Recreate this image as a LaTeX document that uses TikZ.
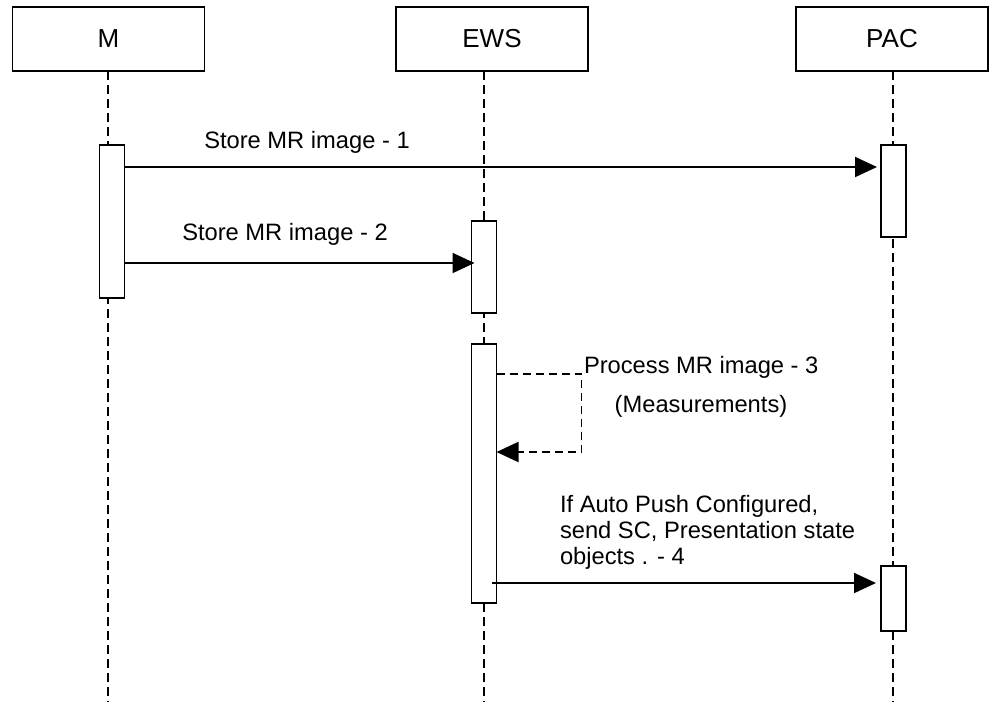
\documentclass[tikz,border=0pt]{standalone}
\usepackage{fontspec}
\setmainfont{Liberation Sans}
\usetikzlibrary{arrows.meta,calc}
\begin{document}
\begin{tikzpicture}[x=1pt,y=-1pt,
  font=\fontsize{23.7}{26}\selectfont,
  head/.style={draw, line width=1.9pt, minimum width=192pt, minimum height=64pt, inner sep=0pt, outer sep=0pt,
    font=\fontsize{26}{30}\selectfont},
  act/.style={draw, fill=white, line width=1.9pt, minimum width=25pt, inner sep=0pt, outer sep=0pt},
  life/.style={line width=1.8pt, dash pattern=on 9pt off 5pt},
  msg/.style={line width=1.9pt, -{Triangle[length=22pt,width=20pt]}},
  selfmsg/.style={msg, dash pattern=on 8pt off 5pt},
  lbl/.style={inner sep=0pt, outer sep=0pt}]
\useasboundingbox (0,0) rectangle (990,702);

% lifeline heads
\node[head] (M)   at (108.5,39) {M};
\node[head] (EWS) at (492,39)   {EWS};
\node[head] (PAC) at (892,39)   {PAC};

% lifelines
\coordinate (Mend)   at (108,702);
\coordinate (EWSend) at (484,702);
\coordinate (PACend) at (893,702);
\draw[life] (M.south -| Mend) -- (Mend);
\draw[life] (EWS.south -| EWSend) -- (EWSend);
\draw[life] (PAC.south -| PACend) -- (PACend);

% activation bars
\node[act, minimum height=153pt] (mA)  at (112,221.5) {};
\node[act, minimum height=92pt]  (eA1) at (484,267)   {};
\node[act, minimum height=259pt] (eA2) at (484,473.5) {};
\node[act, minimum height=92pt]  (pA1) at (893.5,191) {};
\node[act, minimum height=65pt]  (pA2) at (893.5,598.5) {};

% messages
\draw[msg] ($(mA.north east)+(0,22)$) -- ($(pA1.north west)+(-4,22)$);
\draw[msg] ($(mA.north east)+(0,118)$) -- ($(eA1.north west)+(3,42)$);
\draw[selfmsg] ($(eA2.north east)+(0,30)$) -| ($(eA2.north east)+(85,69)$)
   |- ($(eA2.north east)+(0,108)$);
\draw[msg] ($(eA2.north east)+(-5,239)$) -- ($(pA2.north west)+(-5,17)$);

% message labels
\node[lbl, anchor=base] (t1) at (307,148) {Store MR image - 1};
\node[lbl, anchor=base] (t2) at (285,240) {Store MR image - 2};
\node[lbl, anchor=base west] (t3) at (584,373) {Process MR image - 3};
\node[lbl, anchor=base] (t3b) at (701,412) {(Measurements)};
\node[lbl, anchor=base west] (t4a) at (560,512) {If Auto Push Configured,};
\node[lbl, anchor=base west] (t4b) at (560,538) {send SC, Presentation state};
\node[lbl, anchor=base west] (t4c) at (560,564) {objects . - 4};
\end{tikzpicture}
\end{document}
